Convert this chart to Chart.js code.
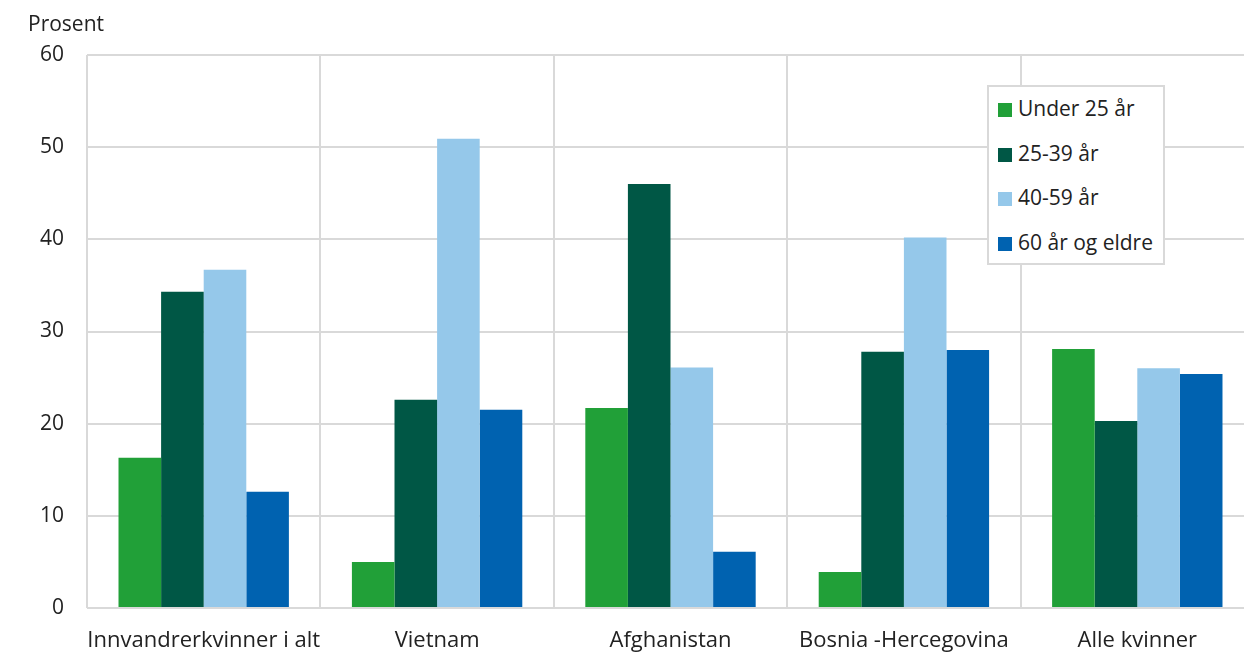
<!DOCTYPE html>
<html>
<head>
<meta charset="utf-8">
<script src="https://cdn.jsdelivr.net/npm/chart.js@4.4.0/dist/chart.umd.min.js"></script>
<style>
  html, body { margin: 0; padding: 0; background: #fff; overflow: hidden; }
  body { width: 1244px; height: 652px; position: relative; font-family: "Open Sans", sans-serif; color: #222; }
  #wrap { position: absolute; left: 0; top: 0; width: 1254px; height: 652px; }
  #ytitle { position: absolute; left: 28px; top: 9px; font-size: 21px; line-height: 28px; }
  #legend { position: absolute; left: 987px; top: 85px; width: 174px; height: 176px; border: 2px solid #d9d9d9; background: #fff; }
  .item { position: absolute; left: 9px; font-size: 21px; line-height: 24px; white-space: nowrap; }
  .item span { display: inline-block; width: 14px; height: 14px; margin-right: 6px; vertical-align: -1px; }
</style>
</head>
<body>
<div id="wrap"><canvas id="chart"></canvas></div>
<div id="ytitle">Prosent</div>
<div id="legend"></div>
<script>
const categories = ['Innvandrerkvinner i alt', 'Vietnam', 'Afghanistan', 'Bosnia -Hercegovina', 'Alle kvinner'];
const seriesNames = ['Under 25 år', '25-39 år', '40-59 år', '60 år og eldre'];
const seriesColors = ['#21a038', '#005745', '#95c8ea', '#0062b0'];
const under25 = [16.3, 5.0, 21.7, 3.9, 28.1];
const age25to39 = [34.3, 22.6, 46.0, 27.8, 20.3];
const age40to59 = [36.7, 50.9, 26.1, 40.2, 26.0];
const age60plus = [12.6, 21.5, 6.1, 28.0, 25.4];
const yTicks = [0, 10, 20, 30, 40, 50, 60];

const seriesValues = [under25, age25to39, age40to59, age60plus];

const canvas = document.getElementById('chart');
canvas.width = 1254;
canvas.height = 652;

new Chart(canvas.getContext('2d'), {
    type: 'bar',
    data: {
        labels: categories,
        datasets: seriesNames.map((name, i) => ({
            label: name,
            data: seriesValues[i],
            backgroundColor: seriesColors[i],
            borderWidth: 0,
            categoryPercentage: 0.73,
            barPercentage: 1
        }))
    },
    options: {
        responsive: false,
        animation: false,
        layout: { padding: { top: 55, right: 0, bottom: 0, left: 0 } },
        plugins: { legend: { display: false }, tooltip: { enabled: false } },
        scales: {
            x: {
                afterFit: scale => { scale.height = 44; },
                grid: { color: '#d9d9d9', lineWidth: 2, offset: true, drawTicks: false },
                border: { display: false },
                ticks: { color: '#222', font: { family: 'Open Sans', size: 22 }, padding: 20, maxRotation: 0, autoSkip: false }
            },
            y: {
                min: 0,
                max: 60,
                afterBuildTicks: scale => { scale.ticks = yTicks.map(v => ({ value: v })); },
                afterFit: scale => { scale.width = 87; },
                grid: { color: '#d9d9d9', lineWidth: 2, drawTicks: false },
                border: { display: false },
                ticks: { color: '#222', font: { family: 'Open Sans', size: 21 }, padding: 23 }
            }
        }
    }
});

// legend box inside the plot area
const legend = document.getElementById('legend');
seriesNames.forEach((name, i) => {
    const div = document.createElement('div');
    div.className = 'item';
    div.style.top = (9 + i * 44.5) + 'px';
    div.innerHTML = `<span style="background:${seriesColors[i]}"></span>${name}`;
    legend.appendChild(div);
});
</script>
</body>
</html>
